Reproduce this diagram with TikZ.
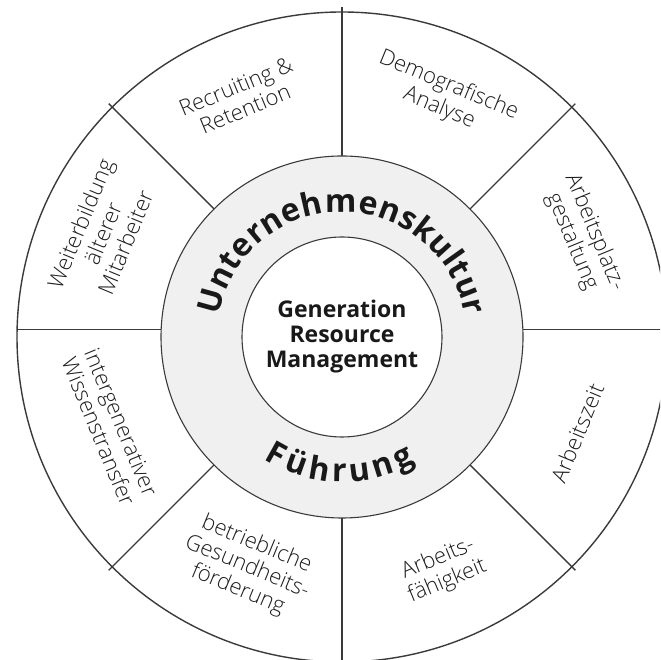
\documentclass[tikz,border=0pt]{standalone}
\usepackage{fontspec}
\setmainfont{Open Sans}
\newfontfamily\lightfont{Open Sans Light}
\usetikzlibrary{decorations.text}
\definecolor{ringgray}{HTML}{EFF0EF}
\definecolor{linegray}{HTML}{3A3A3A}
\definecolor{textgray}{HTML}{1C1C1C}

\begin{document}
\begin{tikzpicture}[x=1pt,y=1pt,
  divider/.style={draw=linegray, line width=1.4pt},
  ringline/.style={draw=linegray, line width=1.1pt},
  seglabel/.style={font=\lightfont\fontsize{22}{24.5}\selectfont, text=textgray, align=center, inner sep=0pt},
  corelabel/.style={font=\bfseries\fontsize{23}{25}\selectfont, text=black!90, align=center, inner sep=0pt},
  ]
\useasboundingbox (0,0) rectangle (660,660);
\clip (0,0) rectangle (660,660);

\coordinate (C) at (342,323);

% outer disc
\draw[divider] (C) circle[radius=325];

% dividers between the eight fields
\foreach \a/\n in {45/ne,90/n,135/nw,225/sw,270/s,315/se}{
  \coordinate (in-\n) at ([shift={(\a:181)}]C);
  \coordinate (out-\n) at ([shift={(\a:330)}]C);
  \draw[divider] (in-\n) -- (out-\n);
}
\coordinate (in-w) at (161.2,330.5);
\coordinate (out-w) at (17.1,330.5);
\coordinate (in-e) at (522.8,330.5);
\coordinate (out-e) at (670,330.5);
\draw[divider] (in-w) -- (out-w);
\draw[divider] (in-e) -- (out-e);

% grey ring and white core
\draw[ringline, fill=ringgray] (C) circle[radius=181];
\draw[ringline, fill=white] (C) circle[radius=100];

% curved ring captions
\begin{scope}[font=\bfseries\fontsize{32}{32}\selectfont, text=black!90]
\path[decorate, decoration={text effects along path, text={Unternehmenskultur},
    text effects/.cd, text along path, fit text to path}]
  ([shift={(170:125)}]C) arc[start angle=170, end angle=10, radius=125];
\path[decorate, decoration={text effects along path, text={Führung},
    text effects/.cd, text along path, fit text to path}]
  ([shift={(237.5:145)}]C) arc[start angle=237.5, end angle=300.5, radius=145];
\end{scope}

\node[corelabel] (core) at (C) {Generation\\Resource\\Management};

% field labels
\node[seglabel, rotate=22.5]  (recruit) at ([shift={(113:260)}]C) {Recruiting \&\\Retention};
\node[seglabel, rotate=-22.5] (demo)    at ([shift={(67:261)}]C) {Demografische\\Analyse};
\node[seglabel, rotate=-67.5] (platz)   at ([shift={(22.5:261)}]C) {Arbeitsplatz-\\gestaltung};
\node[seglabel, rotate=67.5]  (zeit)    at ([shift={(-22.2:254)}]C) {Arbeitszeit};
\node[seglabel, rotate=22.5]  (faehig)  at ([shift={(-66.6:254)}]C) {Arbeits-\\fähigkeit};
\node[seglabel, rotate=-22.5] (gesund)  at ([shift={(-112.4:249)}]C) {betriebliche\\Gesundheits-\\förderung};
\node[seglabel, rotate=-67.5] (wissen)  at ([shift={(-158.8:249)}]C) {intergenerativer\\Wissenstransfer};
\node[seglabel, rotate=67.5]  (weiter)  at ([shift={(156.5:261)}]C) {Weiterbildung\\älterer\\Mitarbeiter};
\end{tikzpicture}
\end{document}
